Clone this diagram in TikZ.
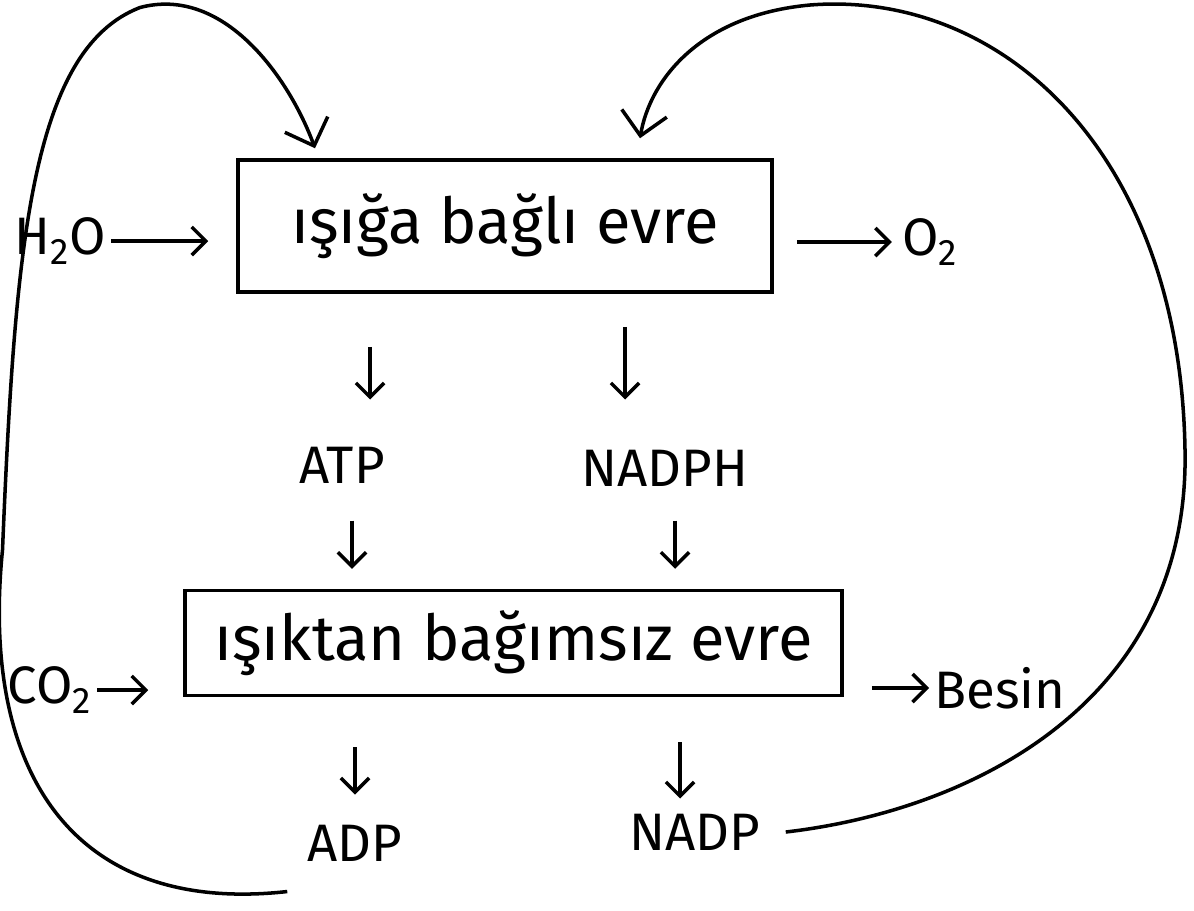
\documentclass[tikz,border=0pt]{standalone}
\usepackage{fontspec}
\setmainfont{Fira Sans}
\usetikzlibrary{arrows.meta,positioning}

\begin{document}
\begin{tikzpicture}[
    evre/.style={draw, line width=2pt, inner sep=0pt,
                 font=\fontsize{36}{40}\selectfont},
    madde/.style={inner sep=0pt, font=\fontsize{30}{34}\selectfont},
    ok/.style={-{Straight Barb[length=8pt,width=16pt]}, line width=2pt},
    dongu/.style={-{Straight Barb[length=13pt,width=26pt]}, line width=2pt}]
  \useasboundingbox (0,0) rectangle (23.88,-18.2);
  % evreler
  \node[evre, minimum width=10.68cm, minimum height=2.64cm]
    (isik) at (10.1,-4.52) {ışığa bağlı evre};
  \node[evre, minimum width=13.14cm, minimum height=2.1cm]
    (karanlik) at (10.27,-12.86) {ışıktan bağımsız evre};
  % maddeler
  \node[madde] (h2o)   at (1.2,-4.82)  {H\textsubscript{2}O};
  \node[madde] (o2)    at (18.6,-4.84) {O\textsubscript{2}};
  \node[madde] (atp)   at (6.84,-9.3)  {ATP};
  \node[madde] (nadph) at (13.3,-9.36) {NADPH};
  \node[madde] (co2)   at (1.0,-13.8)  {CO\textsubscript{2}};
  \node[madde] (besin) at (20.0,-13.76) {Besin};
  \node[madde] (adp)   at (7.1,-16.86) {ADP};
  \node[madde] (nadp)  at (13.9,-16.64) {NADP};
  % oklar
  \draw[ok, shorten <=0.1cm, shorten >=0.56cm] (h2o.east) -- (h2o.east -| isik.west);
  \draw[ok, shorten <=0.46cm, shorten >=0.2cm] (isik.east |- o2) -- (o2.west);
  \draw[ok, shorten <=0.1cm, shorten >=0.7cm] (co2.east) -- (co2.east -| karanlik.west);
  \draw[ok, shorten <=0.56cm, shorten >=0.1cm] (karanlik.east |- besin) -- (besin.west);
  \draw[ok, shorten <=1.06cm, shorten >=0.94cm]
    ([xshift=0.56cm]atp.north |- isik.south) -- ([xshift=0.56cm]atp.north);
  \draw[ok, shorten <=0.74cm, shorten >=0.4cm]
    ([xshift=0.2cm]atp.south) -- ([xshift=0.2cm]atp.south |- karanlik.north);
  \draw[ok, shorten <=0.66cm, shorten >=1.0cm]
    ([xshift=-0.8cm]nadph.north |- isik.south) -- ([xshift=-0.8cm]nadph.north);
  \draw[ok, shorten <=0.68cm, shorten >=0.4cm]
    ([xshift=0.2cm]nadph.south) -- ([xshift=0.2cm]nadph.south |- karanlik.north);
  \draw[ok, shorten <=1.0cm, shorten >=0.6cm]
    (adp.north |- karanlik.south) -- (adp.north);
  \draw[ok, shorten <=0.9cm, shorten >=0.3cm]
    ([xshift=-0.3cm]nadp.north |- karanlik.south) -- ([xshift=-0.3cm]nadp.north);
  % donguler
  \coordinate (lbas) at ([shift={(-0.4,-0.6)}]adp.south west);
  \coordinate (lson) at ([shift={(-3.8,0.2)}]isik.north);
  \coordinate (rbas) at ([xshift=0.5cm]nadp.east);
  \coordinate (rson) at ([shift={(2.7,0.4)}]isik.north);
  \draw[dongu] (lbas) .. controls (1.5,-18.3) and (-0.4,-15.5) .. (0.05,-11)
    .. controls (0.3,-5) and (0.6,-1.0) .. (2.8,-0.15)
    .. controls (4.5,0.3) and (5.8,-1.6) .. (lson);
  \draw[dongu] (rbas) .. controls (19.5,-16.2) and (23.8,-14) .. (23.7,-9)
    .. controls (23.6,-3) and (20,0.2) .. (16.2,-0.1)
    .. controls (14,-0.3) and (13,-1.6) .. (rson);
\end{tikzpicture}
\end{document}
